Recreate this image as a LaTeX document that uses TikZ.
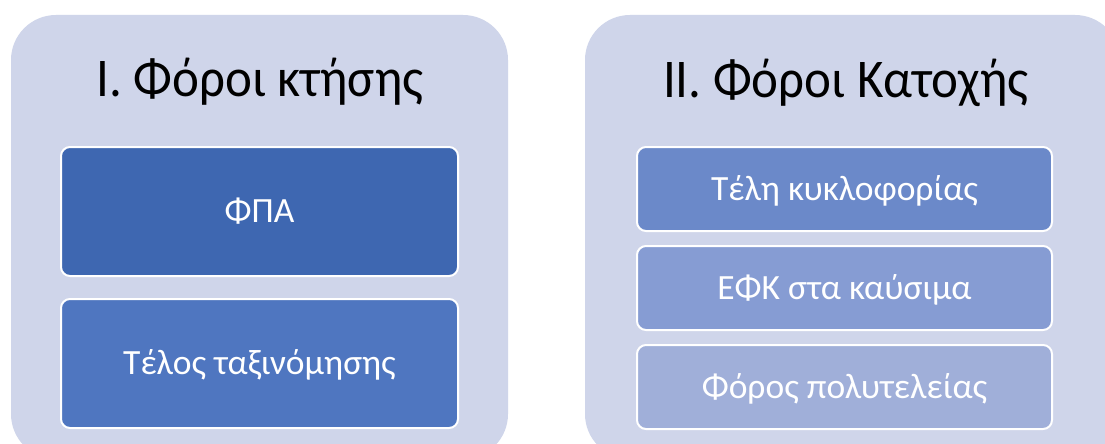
\documentclass[tikz,border=0pt]{standalone}
\usepackage{fontspec}
\setmainfont{Carlito}
\definecolor{panelbg}{HTML}{CFD5EA}
\definecolor{boxA}{HTML}{3E67B1}
\definecolor{boxB}{HTML}{4F76C0}
\definecolor{boxC}{HTML}{6B89C9}
\definecolor{boxD}{HTML}{869CD3}
\definecolor{boxE}{HTML}{A0AFD9}
\tikzset{
  panel/.style={rectangle, rounded corners=45pt, fill=panelbg, draw=none, inner sep=0pt},
  itembox/.style={rectangle, rounded corners=9pt, draw=white, line width=2pt, inner sep=0pt,
     text=white, font=\fontsize{35.5}{40}\selectfont, text height=22pt, text depth=0pt},
  title/.style={anchor=base, inner sep=0pt, text=black, font=\fontsize{51}{56}\selectfont},
}
\begin{document}
\begin{tikzpicture}[x=1pt,y=-1pt]
\clip (0,0) rectangle (1105,444);
\fill[white] (0,0) rectangle (1105,444);
\node[panel, minimum width=497pt, minimum height=444pt] (pL) at (259.5,237) {};
\node[panel, minimum width=535pt, minimum height=444pt] (pR) at (852.5,237) {};
\node[title] (tL) at (260,96) {\scalebox{1}[1.07]{I. Φόροι κτήσης}};
\node[title] (tR) at (846,97) {\scalebox{1}[1.07]{II. Φόροι Κατοχής}};
\node[itembox, fill=boxA, minimum width=397pt, minimum height=129pt] (b1) at (259.5,211.5) {ΦΠΑ};
\node[itembox, fill=boxB, minimum width=397pt, minimum height=129pt] (b2) at (259.5,363.5) {Τέλος ταξινόμησης};
\node[itembox, fill=boxC, minimum width=415pt, minimum height=84pt] (c1) at (844.5,189) {Τέλη κυκλοφορίας};
\node[itembox, fill=boxD, minimum width=415pt, minimum height=84pt] (c2) at (844.5,288) {ΕΦΚ στα καύσιμα};
\node[itembox, fill=boxE, minimum width=415pt, minimum height=84pt] (c3) at (844.5,387) {Φόρος πολυτελείας};
\end{tikzpicture}
\end{document}
